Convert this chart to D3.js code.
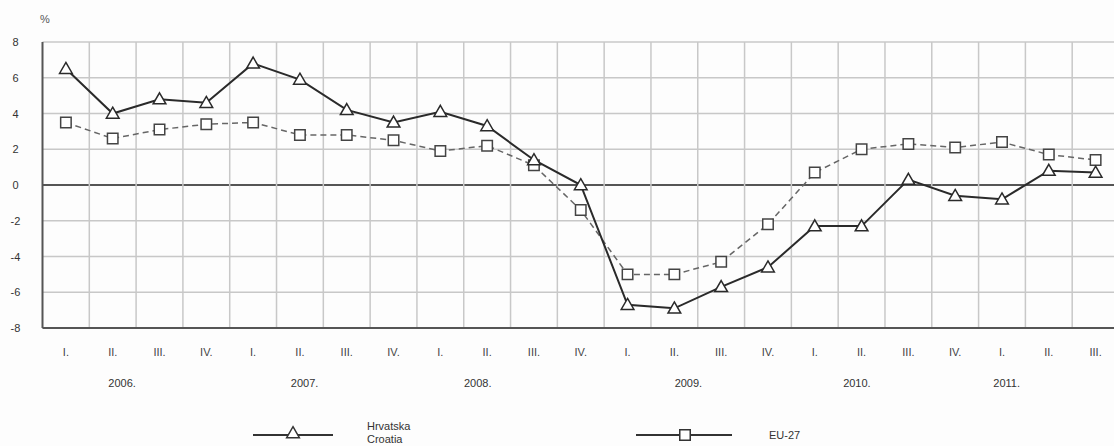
<!DOCTYPE html>
<html>
<head>
<meta charset="utf-8">
<script src="https://cdn.jsdelivr.net/npm/d3@7"></script>
<style>
  body { margin: 0; background: #fdfdfd; }
  svg { display: block; font-family: "Liberation Sans", Arial, sans-serif; }
</style>
</head>
<body>
<div id="chart"></div>
<script>
const quarters = ["I.", "II.", "III.", "IV.", "I.", "II.", "III.", "IV.", "I.", "II.", "III.", "IV.",
  "I.", "II.", "III.", "IV.", "I.", "II.", "III.", "IV.", "I.", "II.", "III."];
const years = ["2006.", "2007.", "2008.", "2009.", "2010.", "2011."];
const yearAnchor = [1.2, 5.1, 8.8, 13.3, 16.9, 20.1];
const yTicks = [-8, -6, -4, -2, 0, 2, 4, 6, 8];

const hrvatska = [6.5, 4.0, 4.8, 4.6, 6.8, 5.9, 4.2, 3.5, 4.1, 3.3, 1.4, 0.0,
  -6.7, -6.9, -5.7, -4.6, -2.3, -2.3, 0.3, -0.6, -0.8, 0.8, 0.7];
const eu27 = [3.5, 2.6, 3.1, 3.4, 3.5, 2.8, 2.8, 2.5, 1.9, 2.2, 1.1, -1.4,
  -5.0, -5.0, -4.3, -2.2, 0.7, 2.0, 2.3, 2.1, 2.4, 1.7, 1.4];

const width = 1114, height = 446;
const mLeft = 42.5, mRight = 1119, mTop = 42, mBottom = 328;

const svg = d3.select("#chart").append("svg")
  .attr("width", width)
  .attr("height", height);

const idx = d3.range(quarters.length);
const x = d3.scaleBand().domain(idx).range([mLeft, mRight]);
const xc = i => x(i) + x.bandwidth() / 2;
const y = d3.scaleLinear().domain([-8, 8]).range([mBottom, mTop]);

// grid
svg.append("g").selectAll("line")
  .data(yTicks)
  .join("line")
  .attr("x1", mLeft).attr("x2", mRight)
  .attr("y1", d => y(d)).attr("y2", d => y(d))
  .attr("stroke", d => d === 0 ? "#555" : "#c8c8c8")
  .attr("stroke-width", d => d === 0 ? 2 : 1.5);

svg.append("g").selectAll("line")
  .data(idx.slice(1))
  .join("line")
  .attr("x1", d => x(d)).attr("x2", d => x(d))
  .attr("y1", mTop).attr("y2", mBottom)
  .attr("stroke", "#c8c8c8")
  .attr("stroke-width", 1.5);

// axes frame
svg.append("line").attr("x1", mLeft).attr("x2", mLeft).attr("y1", mTop).attr("y2", mBottom)
  .attr("stroke", "#555").attr("stroke-width", 2);
svg.append("line").attr("x1", mLeft).attr("x2", mRight).attr("y1", mBottom).attr("y2", mBottom)
  .attr("stroke", "#555").attr("stroke-width", 2);

// y labels
const yAxis = d3.axisLeft(y).tickValues(yTicks).tickFormat(d => String(d)).tickSize(0).tickPadding(0);
const yg = svg.append("g").attr("transform", `translate(${mLeft - 27},0)`).call(yAxis);
yg.select(".domain").remove();
yg.selectAll("text").attr("font-size", 11).attr("fill", "#333").attr("text-anchor", "middle");

svg.append("text").attr("x", 40).attr("y", 23).attr("font-size", 11).attr("fill", "#555").text("%");

// x labels
const xAxis = d3.axisBottom(x).tickFormat(i => quarters[i]).tickSize(0).tickPadding(0);
const xg = svg.append("g").attr("transform", `translate(0,${mBottom + 20})`).call(xAxis);
xg.select(".domain").remove();
xg.selectAll("text").attr("font-size", 11).attr("fill", "#444");

svg.append("g").selectAll("text")
  .data(years)
  .join("text")
  .attr("x", (d, i) => xc(0) + yearAnchor[i] * x.bandwidth())
  .attr("y", mBottom + 59)
  .attr("text-anchor", "middle")
  .attr("font-size", 11)
  .attr("fill", "#333")
  .text(d => d);

// lines
const line = d3.line().x((d, i) => xc(i)).y(d => y(d));

svg.append("path").datum(eu27)
  .attr("d", line).attr("fill", "none")
  .attr("stroke", "#666").attr("stroke-width", 1.5).attr("stroke-dasharray", "6,4");

svg.append("path").datum(hrvatska)
  .attr("d", line).attr("fill", "none")
  .attr("stroke", "#2a2a2a").attr("stroke-width", 2);

const tri = d3.symbol().type(d3.symbolTriangle).size(70);
const sq = d3.symbol().type(d3.symbolSquare).size(110);

svg.append("g").selectAll("path")
  .data(eu27)
  .join("path")
  .attr("d", sq)
  .attr("transform", (d, i) => `translate(${xc(i)},${y(d)})`)
  .attr("fill", "#fff").attr("stroke", "#444").attr("stroke-width", 1.5);

svg.append("g").selectAll("path")
  .data(hrvatska)
  .join("path")
  .attr("d", tri)
  .attr("transform", (d, i) => `translate(${xc(i)},${y(d) + 1})`)
  .attr("fill", "#fff").attr("stroke", "#2a2a2a").attr("stroke-width", 1.5);

// legend
const lg = svg.append("g");
lg.append("line").attr("x1", 253).attr("x2", 333).attr("y1", 435).attr("y2", 435)
  .attr("stroke", "#333").attr("stroke-width", 2);
lg.append("path").attr("d", tri).attr("transform", "translate(293,434)")
  .attr("fill", "#fff").attr("stroke", "#333").attr("stroke-width", 1.5);
lg.append("text").attr("x", 367).attr("y", 430).attr("font-size", 11).attr("fill", "#333").text("Hrvatska");
lg.append("text").attr("x", 367).attr("y", 443).attr("font-size", 11).attr("fill", "#333").text("Croatia");

lg.append("line").attr("x1", 636).attr("x2", 732).attr("y1", 435).attr("y2", 435)
  .attr("stroke", "#333").attr("stroke-width", 2);
lg.append("path").attr("d", sq).attr("transform", "translate(685,435)")
  .attr("fill", "#fff").attr("stroke", "#333").attr("stroke-width", 1.5);
lg.append("text").attr("x", 769).attr("y", 439).attr("font-size", 11).attr("fill", "#333").text("EU-27");
</script>
</body>
</html>
